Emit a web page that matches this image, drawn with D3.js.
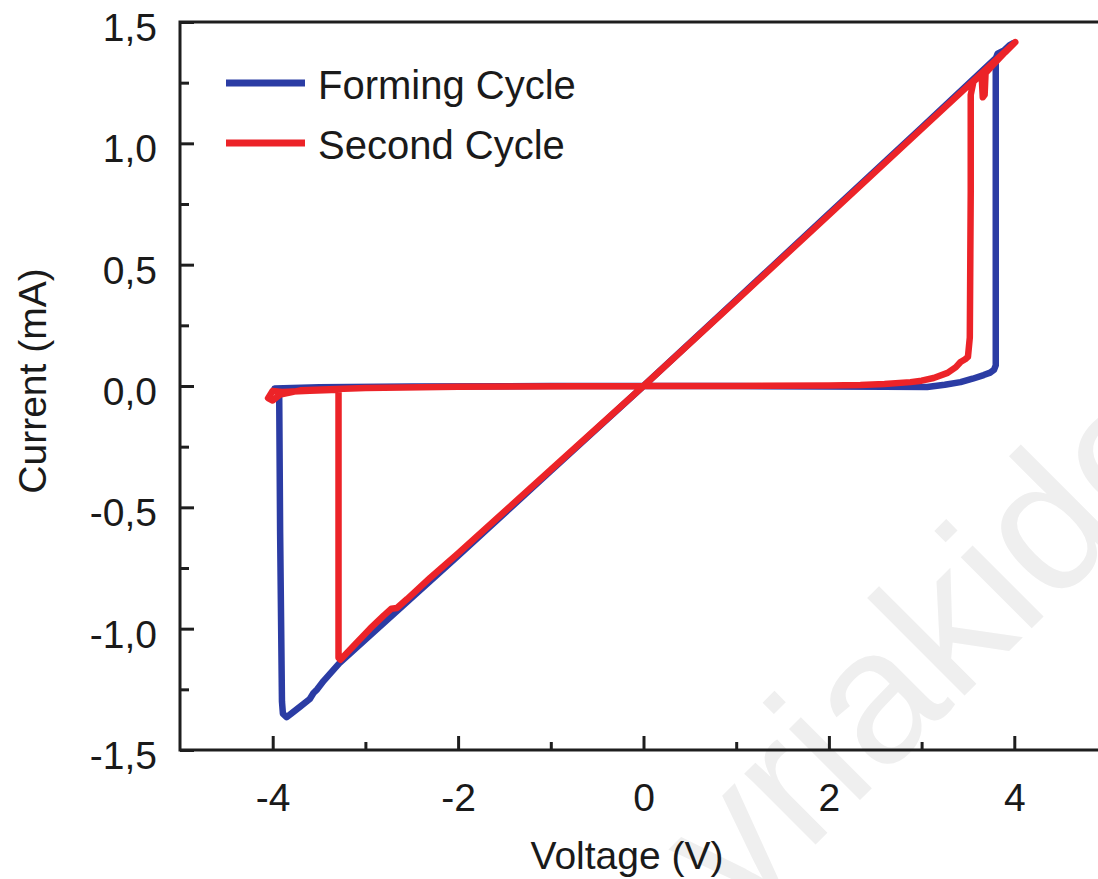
<!DOCTYPE html>
<html>
<head>
<meta charset="utf-8">
<script src="https://d3js.org/d3.v7.min.js"></script>
<style>
    body { margin: 0; background: #fff; }
    svg text { font-family: "Liberation Sans", Arial, sans-serif; fill: #1a1a1a; }
</style>
</head>
<body>
<script>
//I-V data: [voltage (V), current (mA)]
var formingCycle = [
    [0.0, 0.0], [1.0, 0.0], [2.0, -0.002], [2.6, -0.003], [3.06, -0.004], [3.25, 0.005],
    [3.42, 0.016], [3.55, 0.03], [3.67, 0.045], [3.74, 0.055], [3.78, 0.066], [3.80, 0.085],
    [3.80, 0.6], [3.80, 1.35], [3.82, 1.37], [3.9, 1.385], [3.99, 1.413], [3.95, 1.405],
    [3.0, 1.065], [2.0, 0.71], [1.0, 0.355], [0.0, 0.0], [-1.0, -0.35], [-2.0, -0.70],
    [-3.0, -1.045], [-3.28, -1.142], [-3.45, -1.215], [-3.52, -1.25], [-3.56, -1.265],
    [-3.6, -1.29], [-3.7, -1.32], [-3.8, -1.35], [-3.85, -1.365], [-3.89, -1.35], [-3.9, -1.3],
    [-3.92, -0.6], [-3.93, -0.03], [-3.95, -0.012], [-3.98, -0.01], [-3.5, -0.005],
    [-2.5, -0.002], [-1.0, 0.0], [0.0, 0.0]
];

var secondCycle = [
    [0.0, 0.0], [1.0, 0.0], [2.0, 0.002], [2.34, 0.004], [2.6, 0.008], [2.88, 0.016],
    [3.0, 0.022], [3.13, 0.033], [3.28, 0.054], [3.37, 0.078], [3.42, 0.099], [3.47, 0.11],
    [3.50, 0.12], [3.52, 0.2], [3.53, 0.8], [3.53, 1.2], [3.56, 1.255], [3.62, 1.275],
    [3.65, 1.26], [3.66, 1.19], [3.68, 1.2], [3.69, 1.29], [3.8, 1.335], [3.9, 1.375],
    [4.01, 1.417], [3.0, 1.06], [2.0, 0.705], [1.0, 0.352], [0.0, 0.0], [-1.0, -0.345],
    [-2.0, -0.69], [-2.3, -0.79], [-2.55, -0.878], [-2.66, -0.915], [-2.72, -0.918],
    [-2.8, -0.945], [-2.95, -1.0], [-3.1, -1.06], [-3.2, -1.1], [-3.27, -1.128],
    [-3.29, -1.12], [-3.29, -0.6], [-3.29, -0.015], [-3.6, -0.02], [-3.9, -0.025],
    [-4.0, -0.02], [-4.05, -0.05], [-4.0, -0.06], [-3.92, -0.035], [-3.7, -0.018],
    [-3.0, -0.008], [-2.0, -0.003], [0.0, 0.0]
];

var seriesNames = ["Forming Cycle", "Second Cycle"];
var seriesColors = ["#2b3ca4", "#ec2328"];

//ticks
var xMajorTicks = [-4, -2, 0, 2, 4];
var xMinorTicks = [-3, -1, 1, 3];
var yMajorTicks = [-1.5, -1.0, -0.5, 0.0, 0.5, 1.0, 1.5];
var yMinorTicks = [-1.25, -0.75, -0.25, 0.25, 0.75, 1.25];

window.onload = drawChart();

function drawChart(){
    var width = 1098,
        height = 879;

    var left = 180,
        top = 22,
        bottom = 750;

    var svg = d3.select("body")
        .append("svg")
        .attr("width", width)
        .attr("height", height);

    //watermark in the background
    svg.append("text")
        .attr("transform", "translate(739,921) rotate(-45)")
        .style("font-size", "190px")
        .style("fill", "#efefef")
        .text("vriakide");

    //x runs -5..5 V, the right part is cut off by the frame
    var x = d3.scaleLinear()
        .domain([-5, 5])
        .range([left, left + 927]);

    var y = d3.scaleLinear()
        .domain([-1.5, 1.5])
        .range([bottom, top]);

    //comma decimals and plain hyphen minus
    var locale = d3.formatLocale({decimal: ",", thousands: ".", grouping: [3], currency: ["", ""], minus: "-"});
    var fmtY = locale.format(".1f"),
        fmtX = locale.format("d");

    //minor ticks first
    svg.append("g")
        .attr("transform", "translate(0," + bottom + ")")
        .call(d3.axisBottom(x).tickValues(xMinorTicks).tickSize(-8).tickFormat(""))
        .call(styleAxis);

    svg.append("g")
        .attr("transform", "translate(" + left + ",0)")
        .call(d3.axisLeft(y).tickValues(yMinorTicks).tickSize(-9).tickFormat(""))
        .call(styleAxis);

    //major ticks with labels
    var xAxis = svg.append("g")
        .attr("transform", "translate(0," + bottom + ")")
        .call(d3.axisBottom(x).tickValues(xMajorTicks).tickSize(-14).tickPadding(33).tickFormat(fmtX))
        .call(styleAxis);

    var yAxis = svg.append("g")
        .attr("transform", "translate(" + left + ",0)")
        .call(d3.axisLeft(y).tickValues(yMajorTicks).tickSize(-14).tickPadding(23).tickFormat(fmtY))
        .call(styleAxis);
    yAxis.selectAll("text").attr("dy", "0.47em");

    //axis lines: left, bottom and top frame
    svg.append("path")
        .attr("d", "M" + width + "," + top + "H" + left + "V" + bottom + "H" + width)
        .attr("fill", "none")
        .attr("stroke", "#1e1e1e")
        .attr("stroke-width", 3);

    //curves
    var line = d3.line()
        .x(function(d){ return x(d[0]); })
        .y(function(d){ return y(d[1]); });

    var curves = [formingCycle, secondCycle];
    svg.selectAll(".curve")
        .data(curves)
        .enter()
        .append("path")
        .attr("class", "curve")
        .attr("d", line)
        .attr("fill", "none")
        .attr("stroke", function(d, i){ return seriesColors[i]; })
        .attr("stroke-width", 6.5)
        .attr("stroke-linejoin", "round")
        .attr("stroke-linecap", "round");

    //legend
    var legend = svg.selectAll(".legend")
        .data(seriesNames)
        .enter()
        .append("g")
        .attr("class", "legend")
        .attr("transform", function(d, i){ return "translate(226," + (83 + i * 60) + ")"; });

    legend.append("line")
        .attr("x1", 0)
        .attr("x2", 79)
        .attr("stroke", function(d, i){ return seriesColors[i]; })
        .attr("stroke-width", 7);

    legend.append("text")
        .attr("x", 92)
        .attr("y", 16)
        .style("font-size", "40px")
        .text(function(d){ return d; });

    //axis titles
    svg.append("text")
        .attr("x", 627)
        .attr("y", 869)
        .attr("text-anchor", "middle")
        .style("font-size", "39px")
        .text("Voltage (V)");

    svg.append("text")
        .attr("transform", "translate(46,381) rotate(-90)")
        .attr("text-anchor", "middle")
        .style("font-size", "39px")
        .text("Current (mA)");
};

function styleAxis(g){
    g.select(".domain").remove();
    g.selectAll(".tick line")
        .attr("stroke", "#1e1e1e")
        .attr("stroke-width", 3);
    g.selectAll(".tick text")
        .style("font-size", "39px")
        .style("font-family", "'Liberation Sans', Arial, sans-serif")
        .attr("fill", "#1a1a1a");
};
</script>
</body>
</html>
